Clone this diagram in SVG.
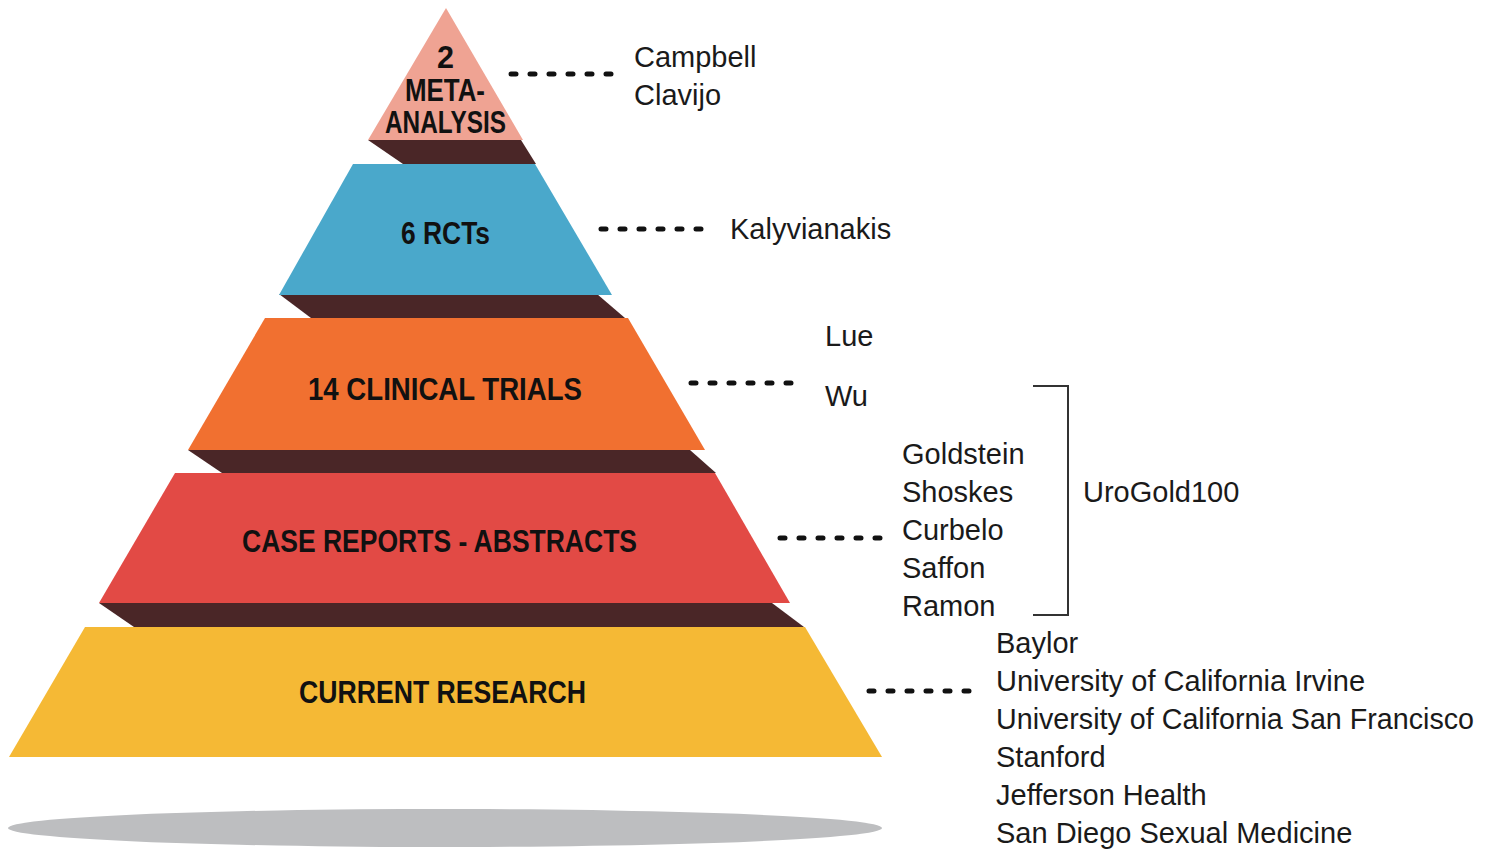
<svg xmlns="http://www.w3.org/2000/svg" width="1494" height="849" viewBox="0 0 1494 849">
<style>
.band{fill:#4A2627}
.lbl{font-family:"Liberation Sans",Arial,sans-serif;font-weight:bold;font-size:31px;fill:#111}
.note{font-family:"Liberation Sans",Arial,sans-serif;font-size:29px;fill:#1a1a1a}
.dash{stroke:#111;stroke-width:5;stroke-linecap:round;stroke-dasharray:5 14;fill:none}
.brk{stroke:#333;stroke-width:2;fill:none}
</style>
<rect width="1494" height="849" fill="#ffffff"/>
<ellipse id="shadow" cx="445" cy="828" rx="437" ry="19" fill="#BDBEC0"/>
<g id="bands">
<polygon class="band" points="368,140 521,140 536,164 403,164"/>
<polygon class="band" points="279,294 597,294 625,318 311,318"/>
<polygon class="band" points="188,450 690,450 716,473 222,473"/>
<polygon class="band" points="99,603 772,603 804,627 134,627"/>
</g>
<g id="meta">
<polygon points="446,8 523,140 368,140" fill="#EFA393"/>
<text class="lbl" x="437" y="68" textLength="17" lengthAdjust="spacingAndGlyphs">2</text>
<text class="lbl" x="405" y="101" textLength="80" lengthAdjust="spacingAndGlyphs">META-</text>
<text class="lbl" x="385" y="133" textLength="121" lengthAdjust="spacingAndGlyphs">ANALYSIS</text>
</g>
<g id="rcts">
<polygon points="353,164 535,164 612,295 279,295" fill="#4AA8CB"/>
<text class="lbl" x="401" y="244" textLength="89" lengthAdjust="spacingAndGlyphs">6 RCTs</text>
</g>
<g id="clinical">
<polygon points="265,318 628,318 705,450 188,450" fill="#F17030"/>
<text class="lbl" x="308" y="400" textLength="274" lengthAdjust="spacingAndGlyphs">14 CLINICAL TRIALS</text>
</g>
<g id="case">
<polygon points="175,473 715,473 790,603 99,603" fill="#E24A45"/>
<text class="lbl" x="242" y="552" textLength="395" lengthAdjust="spacingAndGlyphs">CASE REPORTS - ABSTRACTS</text>
</g>
<g id="current">
<polygon points="85,627 805,627 882,757 9,757" fill="#F5B935"/>
<text class="lbl" x="299" y="703" textLength="287" lengthAdjust="spacingAndGlyphs">CURRENT RESEARCH</text>
</g>
<g id="connectors">
<line class="dash" x1="511" y1="74" x2="611" y2="74"/>
<line class="dash" x1="601" y1="229" x2="701" y2="229"/>
<line class="dash" x1="691" y1="383" x2="791" y2="383"/>
<line class="dash" x1="780" y1="538" x2="880" y2="538"/>
<line class="dash" x1="869" y1="691" x2="969" y2="691"/>
<polyline class="brk" points="1033,386 1068,386 1068,615 1033,615"/>
</g>
<g id="refs-meta">
<text class="note" x="634" y="67">Campbell</text>
<text class="note" x="634" y="105">Clavijo</text>
</g>
<g id="refs-rcts">
<text class="note" x="730" y="239">Kalyvianakis</text>
</g>
<g id="refs-clinical">
<text class="note" x="825" y="346">Lue</text>
<text class="note" x="825" y="406">Wu</text>
</g>
<g id="refs-case">
<text class="note" x="902" y="464">Goldstein</text>
<text class="note" x="902" y="502">Shoskes</text>
<text class="note" x="902" y="540">Curbelo</text>
<text class="note" x="902" y="578">Saffon</text>
<text class="note" x="902" y="616">Ramon</text>
</g>
<g id="urogold">
<text class="note" x="1083" y="502">UroGold100</text>
</g>
<g id="refs-current">
<text class="note" x="996" y="653">Baylor</text>
<text class="note" x="996" y="691">University of California Irvine</text>
<text class="note" x="996" y="729" textLength="478" lengthAdjust="spacingAndGlyphs">University of California San Francisco</text>
<text class="note" x="996" y="767">Stanford</text>
<text class="note" x="996" y="805">Jefferson Health</text>
<text class="note" x="996" y="843">San Diego Sexual Medicine</text>
</g>
</svg>
